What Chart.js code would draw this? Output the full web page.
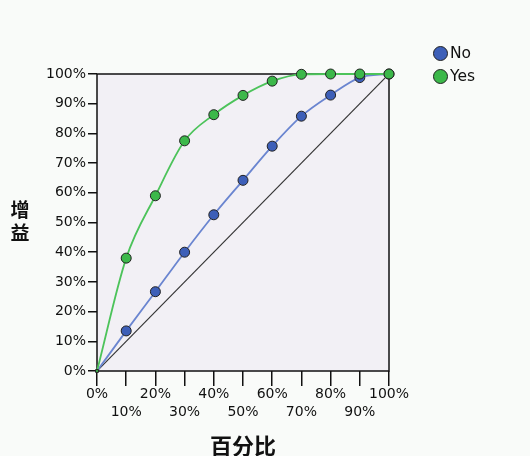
<!DOCTYPE html>
<html><head><meta charset="utf-8">
<script src="https://cdn.jsdelivr.net/npm/chart.js@4"></script>
<style>
html,body{margin:0;padding:0;background:#f9fbf9;}
#wrap{position:relative;width:530px;height:456px;overflow:hidden;}
#c{position:absolute;left:0;top:0;}
.ytitle{position:absolute;left:8px;top:197px;width:24px;text-align:center;font:bold 19px 'Noto Sans CJK SC';line-height:23px;color:#111;}
.leg{position:absolute;left:433px;font:15.5px 'DejaVu Sans';color:#111;height:16px;line-height:16px;}
.leg span.dot{display:inline-block;width:13px;height:13px;border-radius:50%;border:1px solid #222;vertical-align:-3px;margin-right:2px;}
</style></head>
<body><div id="wrap">
<canvas id="c" width="530" height="456"></canvas>
<div class="ytitle">增<br>益</div>
<div class="leg" style="top:45px"><span class="dot" style="background:#3d5fb8"></span>No</div>
<div class="leg" style="top:68px"><span class="dot" style="background:#3cb84a"></span>Yes</div>
</div>
<script>
const percentiles = [0,10,20,30,40,50,60,70,80,90,100];
const noGain  = [0,13.5,26.7,40.0,52.6,64.2,75.7,85.8,92.9,98.8,100];
const yesGain = [0,38.0,59.0,77.5,86.3,92.8,97.6,99.9,100,100,100];
const baseline = [[0,0],[100,100]];
const seriesNames = ['No','Yes'];

const pts = (xs, ys) => xs.map((x,i)=>({x:x,y:ys[i]}));

const plotBg = {
  id:'plotBg',
  beforeDraw(chart){
    const {ctx, chartArea:a} = chart;
    ctx.save(); ctx.fillStyle='#f2f0f5';
    ctx.fillRect(a.left,a.top,a.right-a.left,a.bottom-a.top); ctx.restore();
  },
  beforeDatasetsDraw(chart){
    const {ctx, chartArea:a} = chart;
    ctx.save(); ctx.strokeStyle='#111'; ctx.lineWidth=1.5;
    ctx.strokeRect(a.left,a.top,a.right-a.left,a.bottom-a.top); ctx.restore();
  }
};

new Chart(document.getElementById('c'), {
  type:'line',
  data:{datasets:[
    {label:seriesNames[1], data:pts(percentiles,yesGain), borderColor:'#4cc35a', backgroundColor:'#3cb84a',
     pointBorderColor:'#222', pointBorderWidth:1, borderWidth:1.8,
     pointRadius:c=>c.dataIndex===0?2:5, pointStyle:c=>c.dataIndex===0?'rect':'circle',
     cubicInterpolationMode:'monotone', clip:false},
    {label:seriesNames[0], data:pts(percentiles,noGain), borderColor:'#6a85d0', backgroundColor:'#3d5fb8',
     pointBorderColor:'#222', pointBorderWidth:1, borderWidth:1.8,
     pointRadius:c=>c.dataIndex===0?0:5,
     cubicInterpolationMode:'monotone', clip:false},
    {label:'base', data:baseline.map(p=>({x:p[0],y:p[1]})), borderColor:'#333', borderWidth:1.2, pointRadius:0}
  ]},
  options:{
    responsive:false, animation:false,
    layout:{padding:{left:0,top:74,right:141,bottom:0}},
    plugins:{legend:{display:false}, tooltip:{enabled:false}},
    scales:{
      x:{type:'linear', min:0, max:100,
        border:{display:false},
        grid:{drawOnChartArea:false, tickLength:15, color:'#111', lineWidth:1.5},
        ticks:{stepSize:10, padding:0, color:'#111', font:{family:'DejaVu Sans', size:14, lineHeight:1.25}, maxRotation:0, autoSkip:false,
          callback:v=> (v/10)%2===0 ? [v+'%'] : ['', v+'%']},
        title:{display:true, text:'百分比', color:'#111', font:{family:'Noto Sans CJK SC', size:22, weight:'bold', lineHeight:0.9}, padding:{top:0,bottom:0}},
        afterFit:s=>{s.height=85;}
      },
      y:{min:0, max:100,
        border:{display:false},
        grid:{drawOnChartArea:false, tickLength:9, color:'#111', lineWidth:1.5},
        ticks:{stepSize:10, padding:2, color:'#111', font:{family:'DejaVu Sans', size:14}, callback:v=>v+'%'},
        afterFit:s=>{s.width=97;}
      }
    }
  },
  plugins:[plotBg]
});
</script>
</body></html>
